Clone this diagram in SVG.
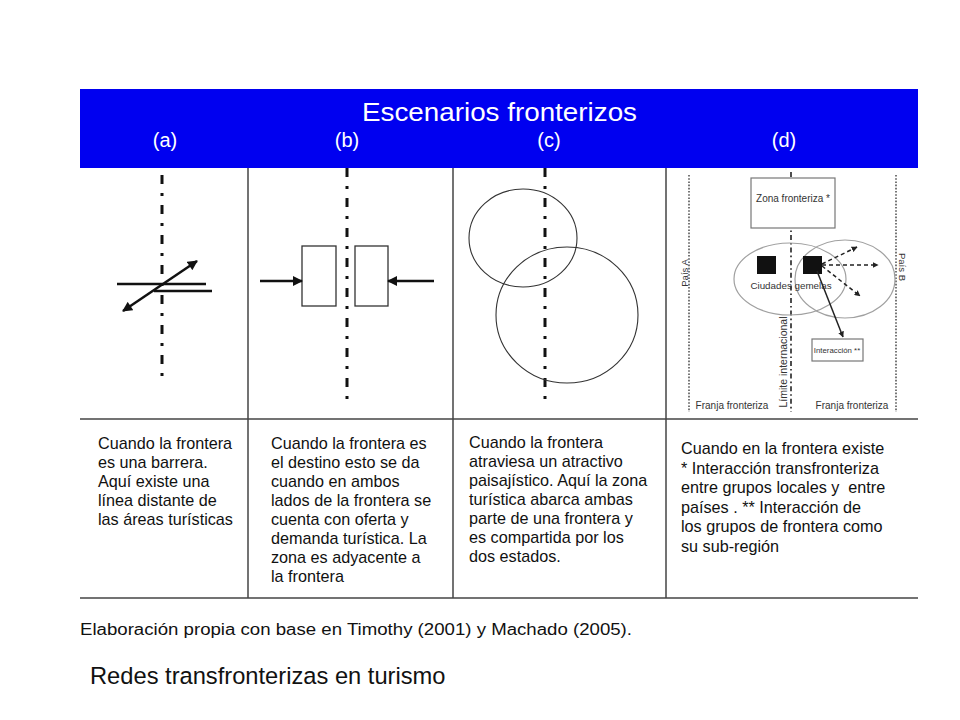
<svg xmlns="http://www.w3.org/2000/svg" width="960" height="720" viewBox="0 0 960 720">
<style>
  .hdr { font-family: "Liberation Sans", Arial, sans-serif; fill: #ffffff; }
  .body { font-family: "Liberation Sans", Arial, sans-serif; font-size: 16.2px; fill: #111111; }
  .small { font-family: "Liberation Sans", Arial, sans-serif; fill: #333333; }
  .grid { stroke: #444444; stroke-width: 1.5; fill: none; }
  .border { stroke: #111111; stroke-width: 3; stroke-dasharray: 9 9 3 9; fill: none; }
  .thick { stroke: #111111; stroke-width: 2.5; fill: none; }
  .box { stroke: #333333; stroke-width: 1.3; fill: #ffffff; }
  .circ { stroke: #333333; stroke-width: 1.1; fill: none; }
  .dotted { stroke: #555555; stroke-width: 1.6; stroke-dasharray: 1.6 1.6; fill: none; }
  .dashdot { stroke: #222222; stroke-width: 1.6; stroke-dasharray: 5 3 1.6 3; fill: none; }
  .gell { stroke: #a0a0a0; stroke-width: 1.2; fill: none; }
  .gbox { stroke: #777777; stroke-width: 1.2; fill: #ffffff; }
  .dash { stroke: #222222; stroke-width: 1.5; stroke-dasharray: 4 3; fill: none; }
  .solid { stroke: #222222; stroke-width: 1.5; fill: none; }
</style>
<defs>
  <marker id="arrowBig" viewBox="0 0 10 10" refX="9" refY="5" markerWidth="11" markerHeight="10" markerUnits="userSpaceOnUse" orient="auto-start-reverse">
    <path d="M0,0 L10,5 L0,10 z" fill="#111111"/>
  </marker>
  <marker id="arrowSmall" viewBox="0 0 10 10" refX="9" refY="5" markerWidth="6" markerHeight="6" markerUnits="userSpaceOnUse" orient="auto">
    <path d="M0,0 L10,5 L0,10 z" fill="#222222"/>
  </marker>
</defs>

<rect width="960" height="720" fill="#ffffff"/>

<g id="header">
  <rect x="80" y="89" width="838" height="79" fill="#0000f0"/>
  <text class="hdr" x="362" y="121" font-size="26" textLength="275" lengthAdjust="spacingAndGlyphs">Escenarios fronterizos</text>
  <text class="hdr" x="165" y="147" font-size="20" text-anchor="middle">(a)</text>
  <text class="hdr" x="347" y="147" font-size="20" text-anchor="middle">(b)</text>
  <text class="hdr" x="549" y="147" font-size="20" text-anchor="middle">(c)</text>
  <text class="hdr" x="784" y="147" font-size="20" text-anchor="middle">(d)</text>
</g>

<g id="table-grid">
  <line class="grid" x1="248" y1="168" x2="248" y2="598"/>
  <line class="grid" x1="453" y1="168" x2="453" y2="598"/>
  <line class="grid" x1="666" y1="168" x2="666" y2="598"/>
  <line class="grid" x1="80" y1="419" x2="918" y2="419"/>
  <line class="grid" x1="80" y1="598" x2="918" y2="598"/>
</g>

<g id="panel-a">
  <line class="border" x1="162" y1="175" x2="162" y2="385"/>
  <line class="thick" x1="117" y1="284" x2="206" y2="284"/>
  <line class="thick" x1="154" y1="291" x2="212" y2="291"/>
</g>

<g id="panel-b">
  <line class="border" x1="347" y1="168" x2="347" y2="400"/>
  <rect id="b-box-left" class="box" x="302" y="246" width="34" height="60"/>
  <rect id="b-box-right" class="box" x="355" y="246" width="33" height="60"/>
</g>

<g id="panel-c">
  <line class="border" x1="545" y1="168" x2="545" y2="405"/>
  <ellipse class="circ" cx="523" cy="238" rx="54" ry="49"/>
  <ellipse class="circ" cx="567" cy="315" rx="71" ry="68"/>
</g>

<g id="panel-d">
  <line class="dotted" x1="689" y1="175" x2="689" y2="412"/>
  <line class="dotted" x1="896" y1="175" x2="896" y2="412"/>
  <line class="dashdot" x1="791" y1="172" x2="791" y2="412"/>
  <g id="zona-fronteriza">
    <rect class="gbox" x="751" y="178" width="84" height="50"/>
    <text class="small" x="793" y="202" font-size="10" text-anchor="middle">Zona fronteriza *</text>
  </g>
  <ellipse class="gell" cx="790" cy="279" rx="56" ry="36"/>
  <ellipse class="gell" cx="845" cy="279" rx="50" ry="39"/>
  <g id="ciudades-gemelas">
    <rect x="757" y="256" width="19" height="18" fill="#111111"/>
    <rect x="803" y="256" width="19" height="18" fill="#111111"/>
    <text class="small" x="791" y="289" font-size="9.8" text-anchor="middle">Ciudades gemelas</text>
  </g>
  <g id="interaccion">
    <rect class="gbox" x="812" y="339" width="51" height="22"/>
    <text class="small" x="837" y="353" font-size="7.8" text-anchor="middle">Interacción **</text>
  </g>
  <text class="small" transform="translate(688,273) rotate(-90)" font-size="9.5" text-anchor="middle">País A</text>
  <text class="small" transform="translate(899,267) rotate(90)" font-size="9.5" text-anchor="middle">País B</text>
  <text class="small" transform="translate(787,362) rotate(-90)" font-size="10.5" text-anchor="middle">Límite internacional</text>
  <text class="small" x="732" y="409" font-size="10" text-anchor="middle">Franja fronteriza</text>
  <text class="small" x="852" y="409" font-size="10" text-anchor="middle">Franja fronteriza</text>
</g>

<g id="connectors">
  <line class="thick" x1="123" y1="311" x2="197" y2="261" marker-start="url(#arrowBig)" marker-end="url(#arrowBig)"/>
  <line class="thick" x1="260" y1="281" x2="302" y2="281" stroke-width="3" marker-end="url(#arrowBig)"/>
  <line class="thick" x1="434" y1="281" x2="388" y2="281" stroke-width="3" marker-end="url(#arrowBig)"/>
  <line class="dash" x1="822" y1="264" x2="857" y2="247" marker-end="url(#arrowSmall)"/>
  <line class="dash" x1="822" y1="265" x2="878" y2="265" marker-end="url(#arrowSmall)"/>
  <line class="dash" x1="822" y1="266" x2="860" y2="296" marker-end="url(#arrowSmall)"/>
  <line class="solid" x1="817" y1="271" x2="843" y2="337" marker-end="url(#arrowSmall)"/>
</g>

<g id="text-a">
  <text class="body" x="98" y="449">
    <tspan x="98" dy="0">Cuando la frontera</tspan>
    <tspan x="98" dy="19">es una barrera.</tspan>
    <tspan x="98" dy="19">Aquí existe una</tspan>
    <tspan x="98" dy="19">línea distante de</tspan>
    <tspan x="98" dy="19">las áreas turísticas</tspan>
  </text>
</g>
<g id="text-b">
  <text class="body" x="271" y="449">
    <tspan x="271" dy="0">Cuando la frontera es</tspan>
    <tspan x="271" dy="19">el destino esto se da</tspan>
    <tspan x="271" dy="19">cuando en ambos</tspan>
    <tspan x="271" dy="19">lados de la frontera se</tspan>
    <tspan x="271" dy="19">cuenta con oferta y</tspan>
    <tspan x="271" dy="19">demanda turística. La</tspan>
    <tspan x="271" dy="19">zona es adyacente a</tspan>
    <tspan x="271" dy="19">la frontera</tspan>
  </text>
</g>
<g id="text-c">
  <text class="body" x="469" y="448">
    <tspan x="469" dy="0">Cuando la frontera</tspan>
    <tspan x="469" dy="19">atraviesa un atractivo</tspan>
    <tspan x="469" dy="19">paisajístico. Aquí la zona</tspan>
    <tspan x="469" dy="19">turística abarca ambas</tspan>
    <tspan x="469" dy="19">parte de una frontera y</tspan>
    <tspan x="469" dy="19">es compartida por los</tspan>
    <tspan x="469" dy="19">dos estados.</tspan>
  </text>
</g>
<g id="text-d">
  <text class="body" x="681" y="454">
    <tspan x="681" dy="0">Cuando en la frontera existe</tspan>
    <tspan x="681" dy="19.5">* Interacción transfronteriza</tspan>
    <tspan x="681" dy="19.5">entre grupos locales y &#160;entre</tspan>
    <tspan x="681" dy="19.5">países . ** Interacción de</tspan>
    <tspan x="681" dy="19.5">los grupos de frontera como</tspan>
    <tspan x="681" dy="19.5">su sub-región</tspan>
  </text>
</g>

<g id="footer">
  <text class="body" x="80" y="635" style="font-size:16px" textLength="552" lengthAdjust="spacingAndGlyphs">Elaboración propia con base en Timothy (2001) y Machado (2005).</text>
  <text class="body" x="90" y="684" style="font-size:23.7px">Redes transfronterizas en turismo</text>
</g>
</svg>
